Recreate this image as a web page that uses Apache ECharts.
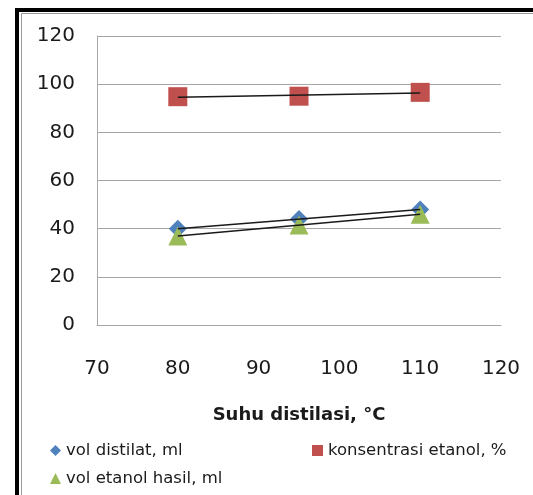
<!DOCTYPE html>
<html>
<head>
<meta charset="utf-8">
<style>
  html, body { margin: 0; padding: 0; background: #ffffff; }
  #chart { width: 533px; height: 495px; }
</style>
<script src="https://cdn.jsdelivr.net/npm/echarts@6/dist/echarts.min.js"></script>
</head>
<body>
<div id="chart"></div>
<script>
// Distillation temperatures (°C)
const suhu = [80, 95, 110];
// Measured series
const volDistilat = [40, 44, 48];          // ml
const konsentrasiEtanol = [94.8, 95, 96.6]; // %
const volEtanolHasil = [37, 41.5, 46];     // ml

const seriesNames = ['vol distilat, ml', 'konsentrasi etanol, %', 'vol etanol hasil, ml'];
const xTicks = [70, 80, 90, 100, 110, 120];
const yTicks = [0, 20, 40, 60, 80, 100, 120];

const FONT = 'DejaVu Sans';

// least-squares linear trendline over the measured range
function trend(xs, ys) {
  const n = xs.length;
  const mx = xs.reduce((a, b) => a + b, 0) / n;
  const my = ys.reduce((a, b) => a + b, 0) / n;
  let sxy = 0, sxx = 0;
  for (let i = 0; i < n; i++) {
    sxy += (xs[i] - mx) * (ys[i] - my);
    sxx += (xs[i] - mx) * (xs[i] - mx);
  }
  const b = sxy / sxx;
  const a = my - b * mx;
  const x0 = Math.min(...xs), x1 = Math.max(...xs);
  return [[x0, a + b * x0], [x1, a + b * x1]];
}

function pts(ys) { return suhu.map((x, i) => [x, ys[i]]); }

function trendSeries(ys) {
  return {
    type: 'line',
    data: trend(suhu, ys),
    symbol: 'none',
    silent: true,
    z: 5,
    lineStyle: { color: '#1a1a1a', width: 1.5 },
    itemStyle: { color: '#1a1a1a' }
  };
}

const chart = echarts.init(document.getElementById('chart'), null, { renderer: 'canvas' });

const legendCommon = {
  orient: 'horizontal',
  padding: 0,
  itemWidth: 11,
  itemHeight: 11,
  selectedMode: false,
  textStyle: { fontFamily: FONT, fontSize: 16.5, color: '#1a1a1a' }
};

chart.setOption({
  animation: false,
  backgroundColor: '#ffffff',
  grid: { left: 97, top: 36, right: 32, bottom: 170, containLabel: false },
  xAxis: {
    type: 'value',
    min: 70, max: 120, interval: 10,
    name: 'Suhu distilasi, °C',
    nameLocation: 'middle',
    nameGap: 81,
    nameTextStyle: { fontFamily: FONT, fontSize: 18, fontWeight: 'bold', color: '#1a1a1a' },
    axisLine: { show: true, lineStyle: { color: '#a6a6a6', width: 1 } },
    axisTick: { show: false },
    splitLine: { show: false },
    axisLabel: {
      fontFamily: FONT, fontSize: 20, color: '#1a1a1a', margin: 34,
      formatter: v => xTicks.includes(v) ? String(v) : ''
    }
  },
  yAxis: {
    type: 'value',
    min: 0, max: 120, interval: 20,
    axisLine: { show: true, lineStyle: { color: '#a6a6a6', width: 1 } },
    axisTick: { show: false },
    splitLine: { show: true, lineStyle: { color: '#a6a6a6', width: 1 } },
    axisLabel: {
      fontFamily: FONT, fontSize: 20, color: '#1a1a1a', margin: 22,
      formatter: v => yTicks.includes(v) ? String(v) : ''
    }
  },
  legend: [
    Object.assign({}, legendCommon, { data: [{ name: seriesNames[0], icon: 'diamond' }], left: 50, top: 442 }),
    Object.assign({}, legendCommon, { data: [{ name: seriesNames[1], icon: 'rect' }], left: 312, top: 442 }),
    Object.assign({}, legendCommon, { data: [{ name: seriesNames[2], icon: 'triangle' }], left: 50, top: 470 })
  ],
  graphic: [
    // outer black frame and inner grey chart-area border (run past the right and bottom edge)
    { type: 'rect', shape: { x: 17, y: 10, width: 700, height: 700 }, style: { fill: 'none', stroke: '#000000', lineWidth: 4 }, z: 0, silent: true },
    { type: 'rect', shape: { x: 21.5, y: 13.5, width: 700, height: 700 }, style: { fill: 'none', stroke: '#9a9a9a', lineWidth: 1 }, z: 0, silent: true }
  ],
  series: [
    {
      name: seriesNames[0], type: 'scatter', data: pts(volDistilat),
      symbol: 'diamond', symbolSize: 18, z: 2,
      itemStyle: { color: '#4f81bd', opacity: 1 }
    },
    {
      name: seriesNames[1], type: 'scatter', data: pts(konsentrasiEtanol),
      symbol: 'rect', symbolSize: 19, z: 2,
      itemStyle: { color: '#c0504d', opacity: 1 }
    },
    {
      name: seriesNames[2], type: 'scatter', data: pts(volEtanolHasil),
      symbol: 'triangle', symbolSize: 19, z: 3,
      itemStyle: { color: '#9bbb59', opacity: 1 }
    },
    trendSeries(volDistilat),
    trendSeries(konsentrasiEtanol),
    trendSeries(volEtanolHasil)
  ]
});
</script>
</body>
</html>
